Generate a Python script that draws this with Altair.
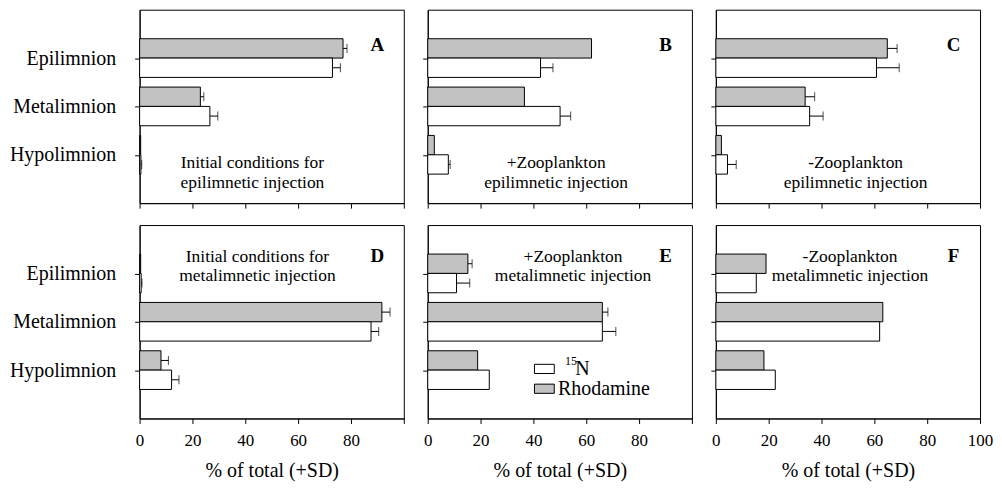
import altair as alt
import pandas as pd

groups = ["Epilimnion", "Metalimnion", "Hypolimnion"]
series = ["Rhodamine", "15N"]

letters = ["A", "B", "C", "D", "E", "F"]

rhod = {
    "A": [77.0, 23.0, 0.4],
    "B": [62.0, 36.6, 2.5],
    "C": [64.9, 33.8, 2.1],
    "D": [0.4, 91.7, 8.1],
    "E": [15.2, 66.1, 18.9],
    "F": [19.0, 63.2, 18.2],
}
rhod_sd = {
    "A": [1.5, 1.3, 0.0],
    "B": [0.0, 0.0, 0.0],
    "C": [3.7, 3.6, 0.0],
    "D": [0.0, 3.1, 2.8],
    "E": [1.6, 2.1, 0.0],
    "F": [0.0, 0.0, 0.0],
}
n15 = {
    "A": [73.0, 26.6, 0.5],
    "B": [42.7, 50.1, 7.8],
    "C": [60.8, 35.5, 4.4],
    "D": [0.6, 87.6, 12.1],
    "E": [10.9, 66.1, 23.3],
    "F": [15.3, 62.0, 22.5],
}
n15_sd = {
    "A": [3.0, 3.0, 0.3],
    "B": [4.7, 4.0, 0.7],
    "C": [8.6, 5.1, 3.3],
    "D": [0.3, 2.9, 2.8],
    "E": [5.0, 5.1, 0.0],
    "F": [0.0, 0.0, 0.0],
}

notes = {
    "A": ["Initial conditions for", "epilimnetic injection"],
    "B": ["+Zooplankton", "epilimnetic injection"],
    "C": ["-Zooplankton", "epilimnetic injection"],
    "D": ["Initial conditions for", "metalimnetic injection"],
    "E": ["+Zooplankton", "metalimnetic injection"],
    "F": ["-Zooplankton", "metalimnetic injection"],
}
note_x = {"A": 42.7, "B": 48.6, "C": 52.9, "D": 44.6, "E": 55.0, "F": 50.8}
note_y_top = [3.18, 3.58]
note_y_bottom = [0.66, 1.05]

x_ticks = [0, 20, 40, 60, 80, 100]
x_title = "% of total (+SD)"

legend_labels = ["15N", "Rhodamine"]

FONT = "Liberation Serif"
GRAY = "#c2c2c2"
W, H = 265, 194
HALF = 0.4

label_expr = " : ".join(
    f"datum.value == {i + 1} ? '{g}'" for i, g in enumerate(groups[:-1])
) + f" : '{groups[-1]}'"


def panel(letter, col, row):
    recs = []
    for i, g in enumerate(groups):
        pos = i + 1
        recs.append(dict(group=g, series="Rhodamine", value=rhod[letter][i],
                         sd=rhod_sd[letter][i], zero=0, y0=pos - HALF, y1=pos,
                         yc=pos - HALF / 2))
        recs.append(dict(group=g, series="15N", value=n15[letter][i],
                         sd=n15_sd[letter][i], zero=0, y0=pos, y1=pos + HALF,
                         yc=pos + HALF / 2))
    df = pd.DataFrame(recs)
    df["hi"] = df["value"] + df["sd"]

    xaxis = alt.Axis(
        values=x_ticks,
        labels=(row == 1),
        labelExpr="datum.value == 100 ? '' : datum.label" if col < 2 else "datum.label",
        labelFlush=False,
        title=x_title if row == 1 else None,
        grid=False,
        ticks=True,
    )
    yaxis = alt.Axis(values=[1, 2, 3], labels=(col == 0), labelExpr=label_expr,
                     title=None, grid=False)
    xs = alt.Scale(domain=[0, 100], nice=False)
    ys = alt.Scale(domain=[0, 4], reverse=True, nice=False)

    def X(f):
        return alt.X(f, scale=xs, axis=xaxis)

    def Y(f):
        return alt.Y(f, scale=ys, axis=yaxis)

    base = alt.Chart(df)
    bars = base.mark_rect(stroke="black", strokeWidth=1).encode(
        x=X("zero:Q"),
        x2="value:Q",
        y=Y("y0:Q"),
        y2="y1:Q",
        fill=alt.Fill("series:N", scale=alt.Scale(domain=series, range=[GRAY, "white"]),
                      legend=None),
    )
    err = base.transform_filter("datum.sd > 0")
    err_line = err.mark_rule(color="black", strokeWidth=1).encode(
        x=X("value:Q"),
        x2="hi:Q",
        y=Y("yc:Q"),
    )
    err_cap = err.mark_tick(color="black", thickness=1, size=9, orient="vertical").encode(
        x=X("hi:Q"),
        y=Y("yc:Q"),
    )
    ny = note_y_top if row == 0 else note_y_bottom
    ndf = pd.DataFrame({"x": [note_x[letter]] * 2, "y": ny, "t": notes[letter]})
    note = alt.Chart(ndf).mark_text(font=FONT, fontSize=17.5, color="black").encode(
        x=X("x:Q"),
        y=Y("y:Q"),
        text="t:N",
    )
    ldf = pd.DataFrame({"x": [90.0], "y": [0.74 if row == 0 else 0.64], "t": [letter]})
    let = alt.Chart(ldf).mark_text(font=FONT, fontSize=19, fontWeight="bold",
                                   color="black").encode(
        x=X("x:Q"),
        y=Y("y:Q"),
        text="t:N",
    )
    layers = [bars, err_line, err_cap, note, let]
    if letter == "E":
        box = pd.DataFrame({"x0": [40.4, 40.4], "x1": [47.9, 47.9],
                            "y0": [2.88, 3.29], "y1": [3.07, 3.48],
                            "series": ["15N", "Rhodamine"]})
        boxes = alt.Chart(box).mark_rect(stroke="black", strokeWidth=1).encode(
            x=X("x0:Q"), x2="x1:Q",
            y=Y("y0:Q"), y2="y1:Q",
            fill=alt.Fill("series:N", scale=alt.Scale(domain=series, range=[GRAY, "white"]),
                          legend=None),
        )
        sup = pd.DataFrame({"x": [52.0], "y": [2.82], "t": [legend_labels[0][:2]]})
        supt = alt.Chart(sup).mark_text(font=FONT, fontSize=12, color="black",
                                        align="left").encode(
            x=X("x:Q"), y=Y("y:Q"), text="t:N")
        lt = pd.DataFrame({"x": [55.8, 49.3], "y": [2.98, 3.4],
                           "t": [legend_labels[0][2:], legend_labels[1]]})
        ltt = alt.Chart(lt).mark_text(font=FONT, fontSize=20, color="black",
                                      align="left").encode(
            x=X("x:Q"), y=Y("y:Q"), text="t:N")
        layers += [boxes, supt, ltt]
    return alt.layer(*layers).properties(width=W, height=H)


panels = []
for k, letter in enumerate(letters):
    panels.append(panel(letter, k % 3, k // 3))

chart = alt.concat(*panels, columns=3, spacing={"row": 22, "column": 24},
                   bounds="flush").properties(
    padding={"left": 0, "top": 0, "right": 0, "bottom": 0}
).configure_view(stroke="black", strokeWidth=1).configure_axis(
    domainColor="black", tickColor="black", labelColor="black", titleColor="black",
    labelFont=FONT, titleFont=FONT, tickSize=5, domainWidth=1, tickWidth=1,
).configure_axisY(labelFontSize=20, labelPadding=19).configure_axisX(
    labelFontSize=17, labelPadding=9, titleFontSize=20, titlePadding=12,
    titleFontWeight="normal",
)

chart.save("out.html", embed_options={"renderer": "svg", "actions": False})
